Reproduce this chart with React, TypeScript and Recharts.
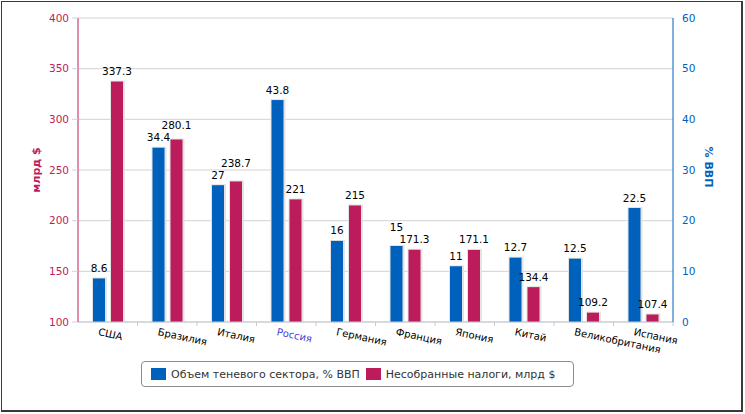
import React from 'react';
import { ComposedChart, Bar, XAxis, YAxis, CartesianGrid, LabelList } from 'recharts';

const categories = ['США', 'Бразилия', 'Италия', 'Россия', 'Германия', 'Франция', 'Япония', 'Китай', 'Великобритания', 'Испания'];
const shadowShare = [8.6, 34.4, 27, 43.8, 16, 15, 11, 12.7, 12.5, 22.5];
const uncollectedTaxes = [337.3, 280.1, 238.7, 221, 215, 171.3, 171.1, 134.4, 109.2, 107.4];
const leftTicks = [100, 150, 200, 250, 300, 350, 400];
const rightTicks = [0, 10, 20, 30, 40, 50, 60];
const leftDomain = [100, 400];
const rightDomain = [0, 60];
const highlightedCategory = 'Россия';
const shareName = 'Объем теневого сектора, % ВВП';
const taxesName = 'Несобранные налоги, млрд $';
const leftTitle = 'млрд $';
const rightTitle = '% ВВП';

const BLUE = '#0061BD';
const CRIMSON = '#BD1C5B';
const FONT = '"DejaVu Sans", Verdana, sans-serif';

const data = categories.map((name, i) => ({ name, share: shadowShare[i], taxes: uncollectedTaxes[i] }));

const ShadowBar = (props: any) => {
  const { x, y, width, height, fill } = props;
  if (!height || height <= 0) return null;
  return (
    <g>
      <rect x={x - 1} y={y - 1} width={width + 3} height={height + 1} fill="#e3e3e3" />
      <rect x={x} y={y} width={width} height={height} fill={fill} />
    </g>
  );
};

const LABEL_GAP = 6.5;
const LABEL_STEP = 12;

// Resolve label baselines for a category so that the two value labels don't collide
const makeValueLabel = (series: 'share' | 'taxes') => (props: any) => {
  const vb = props.viewBox || props;
  const i = props.index;
  if (vb == null || i == null) return null;
  const bottom = vb.y + vb.height;
  let H: number;
  if (series === 'share') {
    H = (vb.height * (rightDomain[1] - rightDomain[0])) / (shadowShare[i] - rightDomain[0]);
  } else {
    H = (vb.height * (leftDomain[1] - leftDomain[0])) / (uncollectedTaxes[i] - leftDomain[0]);
  }
  const blueTop = bottom - ((shadowShare[i] - rightDomain[0]) / (rightDomain[1] - rightDomain[0])) * H;
  const redTop = bottom - ((uncollectedTaxes[i] - leftDomain[0]) / (leftDomain[1] - leftDomain[0])) * H;
  let blueBase = blueTop - LABEL_GAP;
  let redBase = redTop - LABEL_GAP;
  if (Math.abs(blueBase - redBase) < LABEL_STEP) {
    if (blueTop < redTop) blueBase = redBase - LABEL_STEP;
    else redBase = blueBase - LABEL_STEP;
  }
  const base = series === 'share' ? blueBase : redBase;
  return (
    <text x={vb.x + vb.width / 2} y={base} textAnchor="middle" fill="#000" fontSize={10.5} fontFamily={FONT}>
      {props.value}
    </text>
  );
};

const XTick = (props: any) => {
  const { y, payload, width, visibleTicksCount } = props;
  const cx = payload.coordinate;
  const band = width / visibleTicksCount;
  const tx = cx - 10;
  const ty = y + 13;
  const color = payload.value === highlightedCategory ? '#4a3fd8' : '#000';
  return (
    <g>
      <line x1={cx + band / 2} x2={cx + band / 2} y1={y} y2={y + 4} stroke="#c4c9d2" />
      <text x={tx} y={ty} transform={`rotate(12, ${tx}, ${ty})`} fill={color} fontSize={10} fontFamily={FONT} textAnchor="start">
        {payload.value}
      </text>
    </g>
  );
};

const LeftTitle = (props: any) => {
  const vb = props.viewBox || { x: 0, y: 18, width: 78, height: 304 };
  const cx = vb.x + 36;
  const cy = vb.y + vb.height / 2;
  return (
    <text x={cx} y={cy} transform={`rotate(-90, ${cx}, ${cy})`} textAnchor="middle" dominantBaseline="central" fill={CRIMSON} fontSize={11} fontWeight="bold" fontFamily={FONT}>
      {leftTitle}
    </text>
  );
};

const RightTitle = (props: any) => {
  const vb = props.viewBox || { x: 673, y: 18, width: 72, height: 304 };
  const cx = vb.x + 35;
  const cy = vb.y + vb.height / 2 - 3;
  return (
    <text x={cx} y={cy} transform={`rotate(90, ${cx}, ${cy})`} textAnchor="middle" dominantBaseline="central" fill={BLUE} fontSize={11} fontWeight="bold" fontFamily={FONT}>
      {rightTitle}
    </text>
  );
};

const legendItems = [
  { name: shareName, color: BLUE },
  { name: taxesName, color: CRIMSON },
];

export default function App() {
  return (
    <div style={{ position: 'absolute', left: 0, top: 0, width: 745, height: 414, background: '#fff', fontFamily: FONT }}>
      <div
        style={{
          position: 'absolute',
          left: 1,
          top: 1,
          width: 742,
          height: 411,
          boxSizing: 'border-box',
          borderTop: '1px solid #3a3a3a',
          borderLeft: '1px solid #3a3a3a',
          borderRight: '2px solid #3a3a3a',
          borderBottom: '2px solid #3a3a3a',
        }}
      />
      <div style={{ position: 'absolute', left: 0, top: 0 }}>
        <ComposedChart width={745} height={414} data={data} margin={{ top: 18, right: 0, bottom: 0, left: 0 }} barSize={12} barGap={6}>
          <CartesianGrid yAxisId="left" vertical={false} stroke="#d2d2d2" />
          <XAxis
            dataKey="name"
            height={92}
            axisLine={{ stroke: '#c4c9d2' }}
            tickLine={false}
            tickSize={0}
            tickMargin={0}
            interval={0}
            tick={<XTick />}
          />
          <YAxis
            yAxisId="left"
            orientation="left"
            width={78}
            domain={leftDomain}
            ticks={leftTicks}
            allowDataOverflow
            axisLine={{ stroke: CRIMSON }}
            tickLine={{ stroke: '#d2d2d2' }}
            tickSize={6}
            tickMargin={3}
            tick={{ fill: CRIMSON, fontSize: 10.5, fontFamily: FONT }}
            label={<LeftTitle />}
          />
          <YAxis
            yAxisId="right"
            orientation="right"
            width={72}
            domain={rightDomain}
            ticks={rightTicks}
            allowDataOverflow
            axisLine={{ stroke: BLUE }}
            tickLine={false}
            tickSize={6}
            tickMargin={3}
            tick={{ fill: BLUE, fontSize: 10.5, fontFamily: FONT, textAnchor: 'start' }}
            label={<RightTitle />}
          />
          <Bar yAxisId="right" dataKey="share" name={shareName} fill={BLUE} shape={<ShadowBar />} isAnimationActive={false}>
            <LabelList dataKey="share" content={makeValueLabel('share')} />
          </Bar>
          <Bar yAxisId="left" dataKey="taxes" name={taxesName} fill={CRIMSON} shape={<ShadowBar />} isAnimationActive={false}>
            <LabelList dataKey="taxes" content={makeValueLabel('taxes')} />
          </Bar>
        </ComposedChart>
      </div>
      <div
        style={{
          position: 'absolute',
          left: 141,
          top: 361,
          width: 433,
          height: 26,
          boxSizing: 'border-box',
          border: '1px solid #8c8c8c',
          borderRadius: 4,
          display: 'flex',
          alignItems: 'center',
          paddingLeft: 9,
          fontSize: 11,
          color: '#333',
          whiteSpace: 'nowrap',
        }}
      >
        {legendItems.map((it) => (
          <div key={it.name} style={{ display: 'flex', alignItems: 'center', marginRight: 6 }}>
            <span style={{ display: 'inline-block', width: 15, height: 12, background: it.color, marginRight: 5 }} />
            <span>{it.name}</span>
          </div>
        ))}
      </div>
    </div>
  );
}
